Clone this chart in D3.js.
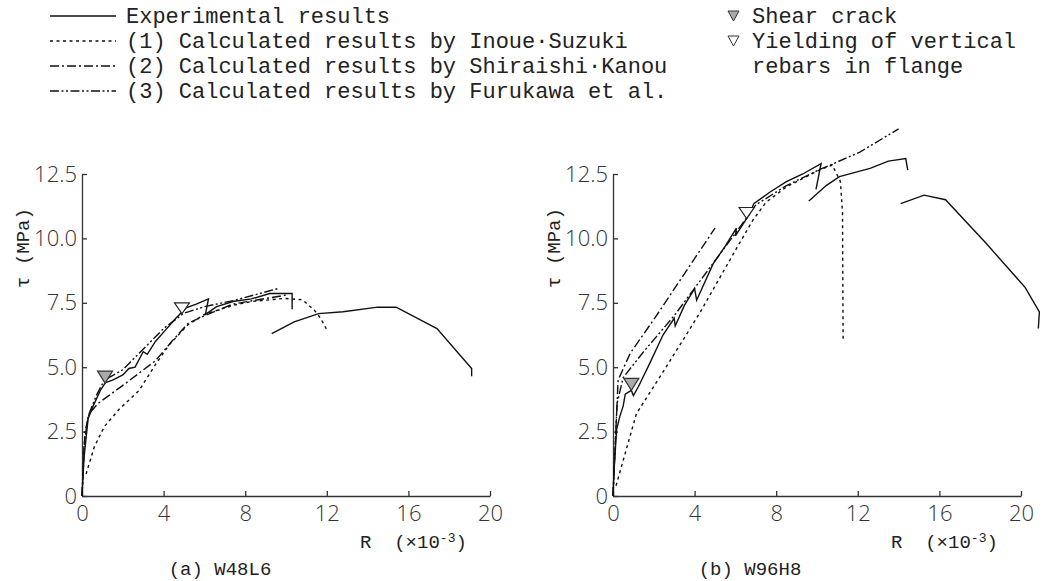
<!DOCTYPE html>
<html>
<head>
<meta charset="utf-8">
<script src="https://cdn.jsdelivr.net/npm/d3@7"></script>
<style>
  body { margin: 0; background: #fff; }
  svg { display: block; }
  .mono { font-family: "Liberation Mono", "DejaVu Sans Mono", monospace; fill: #222; }
  .tick text { font-family: "Open Sans", sans-serif; font-weight: 300; font-size: 22px; fill: #333; }
  .domain, .tick line { stroke: #333; stroke-width: 1.3; }
</style>
</head>
<body>
<svg id="chart" width="1043" height="581"></svg>
<script>
// tick labels
const xTicks = [0, 4, 8, 12, 16, 20];
const yTicks = [0, 2.5, 5, 7.5, 10, 12.5];
const yTickLabels = ['0', '2.5', '5.0', '7.5', '10.0', '12.5'];

// legend
const seriesNames = [
  'Experimental results',
  '(1) Calculated results by Inoue·Suzuki',
  '(2) Calculated results by Shiraishi·Kanou',
  '(3) Calculated results by Furukawa et al.'
];
const markerNames = ['Shear crack', 'Yielding of vertical', 'rebars in flange'];

// (a) W48L6  [R (x10^-3), tau (MPa)]
const expA1 = [[0, 0], [0.1, 1.5], [0.3, 3.0], [0.55, 3.5], [0.9, 4.1], [1.15, 4.4], [1.5, 4.5], [2.0, 4.7],
  [2.3, 4.95], [2.6, 5.0], [3.0, 5.6], [3.2, 5.5], [3.6, 6.0], [4.1, 6.45], [4.6, 6.9], [5.1, 7.3], [5.6, 7.45],
  [6.2, 7.65], [6.05, 7.05], [6.6, 7.35], [7.4, 7.55], [8.3, 7.65], [9.2, 7.86], [10.3, 7.86], [10.3, 7.25]];
const expA2 = [[9.3, 6.3], [10.4, 6.76], [11.6, 7.08], [12.8, 7.15], [14.5, 7.33], [15.4, 7.33], [17.4, 6.5],
  [19.1, 4.95], [19.1, 4.65]];
const calc1A = [[0.2, 0.85], [0.6, 1.9], [1.1, 2.7], [1.8, 3.35], [2.8, 4.1], [3.6, 5.1], [4.25, 5.85], [5.2, 6.65],
  [6.0, 7.05], [7.4, 7.4], [8.3, 7.55], [9.9, 7.67], [10.8, 7.62], [11.4, 7.2], [11.7, 6.9], [12.0, 6.45]];
const calc2A = [[0, 0], [0.15, 2.5], [0.35, 3.2], [0.8, 3.6], [2.1, 4.35], [3.6, 5.25], [4.4, 6.0], [5.2, 6.7],
  [6.0, 7.0], [7.4, 7.45], [8.5, 7.6], [10.0, 7.8]];
const calc3A = [[0, 0], [0.1, 2.0], [0.3, 3.1], [0.7, 3.9], [1.1, 4.5], [2.0, 4.9], [3.0, 5.7], [4.0, 6.5],
  [5.0, 7.1], [6.0, 7.35], [7.5, 7.6], [9.6, 8.05]];
const shearA = [1.13, 4.85];
const yieldA = [4.9, 7.5];

// (b) W96H8
const expB1 = [[0, 0], [0.05, 1.0], [0.18, 2.6], [0.34, 3.1], [0.5, 3.5], [0.6, 3.95], [0.9, 4.1], [1.0, 3.9],
  [1.25, 4.25], [1.8, 5.15], [2.45, 6.25], [3.0, 6.9], [3.05, 6.6], [3.5, 7.4], [4.0, 8.05], [4.1, 7.6], [4.9, 9.0],
  [5.5, 9.7], [6.05, 10.4], [6.0, 10.1], [6.7, 10.95], [6.9, 11.35], [7.7, 11.8], [8.5, 12.2], [9.3, 12.5],
  [10.2, 12.9], [10.1, 12.5], [9.95, 11.9]];
const expB2 = [[9.6, 11.45], [10.45, 12.05], [11.1, 12.4], [12.6, 12.72], [13.5, 13.0], [14.35, 13.1], [14.45, 12.65]];
const expB3 = [[14.1, 11.35], [15.25, 11.68], [16.3, 11.5], [18.3, 9.8], [20.2, 8.1], [20.9, 7.15], [20.85, 6.5]];
const calc1B = [[0.15, 0.4], [1.15, 3.2], [2.6, 5.0], [4.25, 7.1], [5.9, 9.4], [6.85, 10.7], [7.5, 11.4], [8.5, 12.0],
  [10.1, 12.65], [10.75, 12.85], [11.15, 12.2], [11.25, 11.0], [11.28, 6.05]];
const calc2B = [[0, 0], [0.25, 4.5], [0.85, 5.55], [2.0, 6.85], [5.0, 10.4]];
const calc3B = [[0, 0], [0.2, 3.6], [0.5, 4.6], [1.5, 5.6], [3.0, 7.0], [4.5, 8.6], [6.0, 10.2], [7.0, 11.3],
  [8.5, 12.05], [10.2, 12.7], [10.8, 12.9], [12.1, 13.35], [14.0, 14.25]];
const shearB = [0.9, 4.57];
const yieldB = [6.55, 11.2];

const dashes = [null, '3,3.5', '9,3,2,3', '9,2.5,2,2.5,2,2.5'];

const svg = d3.select('#chart');

const drawPanel = (p) => {
  const x = d3.scaleLinear().domain([0, 20]).range([p.left, p.left + 408]);
  const y = d3.scaleLinear().domain([0, 12.5]).range([496, 174]);
  const g = svg.append('g');

  g.append('g')
    .attr('transform', 'translate(0,496)')
    .call(d3.axisBottom(x).tickValues(xTicks).tickSize(-5).tickSizeOuter(0).tickPadding(9));

  g.append('g')
    .attr('transform', `translate(${p.left},0)`)
    .call(d3.axisLeft(y).tickValues(yTicks).tickSize(-5).tickSizeOuter(0).tickPadding(5)
      .tickFormat((d, i) => yTickLabels[i]));

  const line = d3.line().x(d => x(d[0])).y(d => y(d[1]));

  p.series.forEach(s => {
    g.append('path')
      .datum(s.data)
      .attr('d', line)
      .attr('fill', 'none')
      .attr('stroke', '#111')
      .attr('stroke-width', 1.4)
      .attr('stroke-dasharray', dashes[s.k]);
  });

  // down-pointing triangles, apex below the value
  const tri = (d, w, h) => `M${x(d[0]) - w / 2},${y(d[1])}h${w}l${-w / 2},${h}z`;
  g.append('path').attr('d', tri(p.shear, 15, 12)).attr('fill', '#aaa').attr('stroke', '#333').attr('stroke-width', 1.2);
  g.append('path').attr('d', tri(p.yield, 15, 11)).attr('fill', '#fff').attr('stroke', '#222').attr('stroke-width', 1.2);

  g.append('text')
    .attr('class', 'mono')
    .attr('transform', `translate(${p.left - 60},248) rotate(-90)`)
    .attr('text-anchor', 'middle')
    .attr('dy', '0.35em')
    .style('font-size', '19px')
    .text('τ (MPa)');

  const xl = g.append('text')
    .attr('class', 'mono')
    .attr('x', p.left + 278)
    .attr('y', 548)
    .style('font-size', '19px')
    .style('white-space', 'pre');
  xl.append('tspan').text('R  (×10');
  xl.append('tspan').attr('dy', -6).style('font-size', '13px').text('-3');
  xl.append('tspan').attr('dy', 6).text(')');

  g.append('text')
    .attr('class', 'mono')
    .attr('x', p.capX)
    .attr('y', 575)
    .attr('text-anchor', 'middle')
    .style('font-size', '19px')
    .text(p.caption);
};

drawPanel({
  left: 82, capX: 220, caption: '(a) W48L6', shear: shearA, yield: yieldA,
  series: [{ data: expA1, k: 0 }, { data: expA2, k: 0 }, { data: calc1A, k: 1 }, { data: calc2A, k: 2 }, { data: calc3A, k: 3 }]
});
drawPanel({
  left: 613, capX: 750, caption: '(b) W96H8', shear: shearB, yield: yieldB,
  series: [{ data: expB1, k: 0 }, { data: expB2, k: 0 }, { data: expB3, k: 0 }, { data: calc1B, k: 1 }, { data: calc2B, k: 2 }, { data: calc3B, k: 3 }]
});

// legend
const rows = [16, 41, 66, 91];
const lg = svg.append('g');
seriesNames.forEach((name, i) => {
  lg.append('line')
    .attr('x1', 50).attr('x2', 116)
    .attr('y1', rows[i]).attr('y2', rows[i])
    .attr('stroke', '#111').attr('stroke-width', 1.3)
    .attr('stroke-dasharray', dashes[i]);
  lg.append('text')
    .attr('class', 'mono')
    .attr('x', 126).attr('y', rows[i])
    .attr('dy', '0.32em')
    .style('font-size', '22px')
    .text(name);
});
markerNames.forEach((name, i) => {
  if (i < 2) {
    lg.append('path')
      .attr('d', `M${728},${rows[i] - 5}h11l-5.5,10z`)
      .attr('fill', i === 0 ? '#aaa' : '#fff')
      .attr('stroke', '#333').attr('stroke-width', 1);
  }
  lg.append('text')
    .attr('class', 'mono')
    .attr('x', 752).attr('y', rows[i])
    .attr('dy', '0.32em')
    .style('font-size', '22px')
    .text(name);
});
</script>
</body>
</html>
